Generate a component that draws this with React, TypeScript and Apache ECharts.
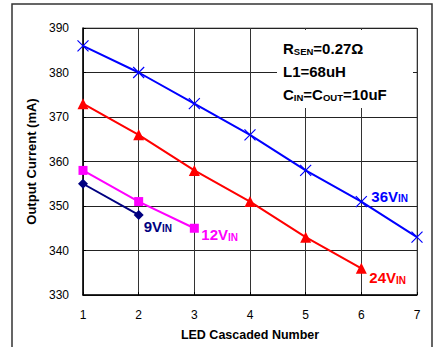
import React, { useEffect, useRef } from "react";
import * as echarts from "echarts";

const xTicks = [1, 2, 3, 4, 5, 6, 7];
const v36 = [386, 380, 373, 366, 358, 351, 343];
const v24 = [373, 366, 358, 351, 343, 336];
const v12 = [358, 351, 345];
const v9 = [355, 348];

const FONT = "Liberation Sans, Arial, sans-serif";

function pts(vals: number[], labelIdx: number, label: any) {
  return vals.map((v, i) =>
    i === labelIdx ? { value: [xTicks[i], v], label } : [xTicks[i], v]
  );
}

function lbl(main: string, color: string, offset: number[]) {
  return {
    show: true,
    position: "inside",
    offset,
    align: "left",
    formatter: `{a|${main}}{b|IN}`,
    rich: {
      a: { fontFamily: FONT, fontWeight: "bold", fontSize: 15, color, verticalAlign: "bottom", lineHeight: 16 },
      b: { fontFamily: FONT, fontWeight: "bold", fontSize: 10, color, verticalAlign: "bottom", lineHeight: 14 },
    },
  };
}

export default function App() {
  const ref = useRef<HTMLDivElement>(null);
  useEffect(() => {
    document.body.style.margin = "0";
    const chart = echarts.init(ref.current!, null, { renderer: "svg" });
    chart.setOption({
      animation: false,
      backgroundColor: "#fff",
      grid: { left: 83, right: 22, top: 28, bottom: 52, show: true, borderColor: "#808080", borderWidth: 1 },
      xAxis: {
        type: "value", min: 1, max: 7, interval: 1,
        name: "LED Cascaded Number", nameLocation: "middle", nameGap: 33,
        nameTextStyle: { fontFamily: FONT, fontWeight: "bold", fontSize: 12.5, color: "#000" },
        axisLine: { onZero: false, lineStyle: { color: "#000", width: 1.5 } },
        axisTick: { show: true, inside: true, length: 3, lineStyle: { color: "#000" } },
        axisLabel: { fontFamily: FONT, fontSize: 12, color: "#000", margin: 14 },
        splitLine: { show: true, lineStyle: { color: "#333", width: 1 } },
      },
      yAxis: {
        type: "value", min: 330, max: 390, interval: 10,
        name: "Output Current (mA)", nameLocation: "middle", nameGap: 36,
        nameTextStyle: { fontFamily: FONT, fontWeight: "bold", fontSize: 13, color: "#000" },
        axisLine: { show: true, lineStyle: { color: "#000", width: 1.5 } },
        axisTick: { show: true, inside: true, length: 3, lineStyle: { color: "#000" } },
        axisLabel: { fontFamily: FONT, fontSize: 12, color: "#000", margin: 14 },
        splitLine: { show: true, lineStyle: { color: "#222", width: 1 } },
      },
      series: [
        {
          type: "line", data: pts(v36, 5, lbl("36V", "#0000FF", [10, -6])),
          symbol: "path://M0,0L10,10M10,0L0,10", symbolSize: 11,
          lineStyle: { color: "#0000FF", width: 2 },
          itemStyle: { color: "#0000FF", borderColor: "#0000FF", borderWidth: 1.2 },
          z: 4,
        },
        {
          type: "line", data: pts(v24, 5, lbl("24V", "#FF0000", [8, 9])),
          symbol: "triangle", symbolSize: 11,
          lineStyle: { color: "#FF0000", width: 2 },
          itemStyle: { color: "#FF0000" },
          z: 3,
        },
        {
          type: "line", data: pts(v12, 2, lbl("12V", "#FF00FF", [7, 6])),
          symbol: "rect", symbolSize: 9,
          lineStyle: { color: "#FF00FF", width: 2 },
          itemStyle: { color: "#FF00FF" },
          z: 3,
        },
        {
          type: "line", data: pts(v9, 1, lbl("9V", "#000080", [5, 11])),
          symbol: "diamond", symbolSize: 10,
          lineStyle: { color: "#000080", width: 2 },
          itemStyle: { color: "#000080" },
          z: 3,
        },
      ],
      graphic: [
        { type: "rect", shape: { x: 12, y: 4, width: 420, height: 360 }, style: { fill: "none", stroke: "#333", lineWidth: 1.5 }, z: 10, silent: true },
        { type: "rect", shape: { x: 277, y: 30, width: 136, height: 78 }, style: { fill: "#fff" }, z: 5 },
        {
          type: "text", x: 283, y: 33, z: 6,
          style: {
            text: "{a|R}{b|SEN}{a|=0.27Ω}\n{a|L1=68uH}\n{a|C}{b|IN}{a|=C}{b|OUT}{a|=10uF}",
            rich: {
              a: { fontFamily: FONT, fontWeight: "bold", fontSize: 15, fill: "#000", verticalAlign: "bottom", lineHeight: 23 },
              b: { fontFamily: FONT, fontWeight: "bold", fontSize: 9.5, fill: "#000", verticalAlign: "bottom", lineHeight: 20 },
            },
          },
        },
      ],
    });
    return () => chart.dispose();
  }, []);
  return <div ref={ref} style={{ position: "absolute", left: 0, top: 0, width: 439, height: 347 }} />;
}
